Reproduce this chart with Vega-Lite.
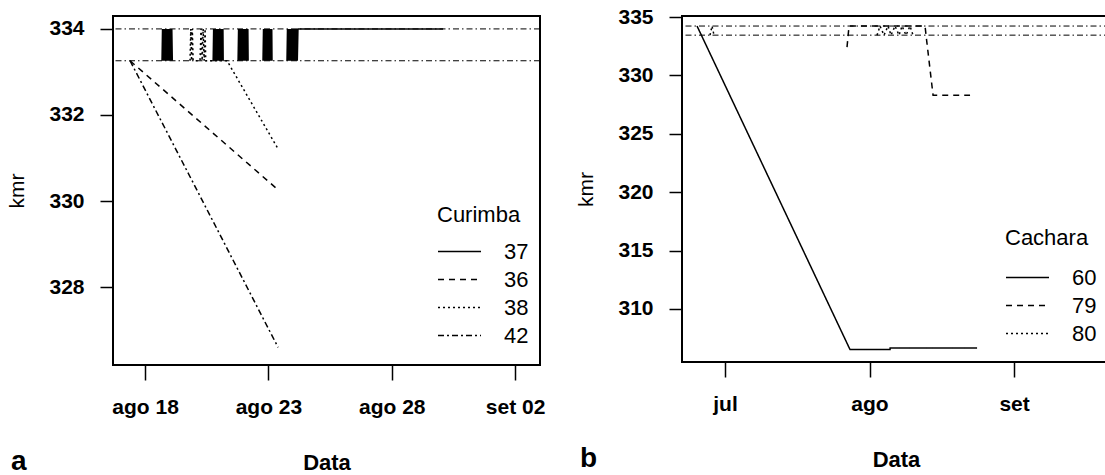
{
  "$schema": "https://vega.github.io/schema/vega-lite/v6.json",
  "background": "white",
  "padding": {"left": 5, "top": 5, "right": 0, "bottom": 0},
  "spacing": 142,
  "bounds": "flush",
  "resolve": {"scale": {"strokeDash": "independent"}, "legend": {"strokeDash": "independent"}},
  "config": {
    "font": "Liberation Sans",
    "view": {"stroke": "black", "strokeWidth": 2},
    "axis": {"grid": false, "domain": false, "tickColor": "black", "tickWidth": 1.5, "tickSize": 13, "labelColor": "black", "labelFontSize": 21, "labelFontWeight": "bold", "labelPadding": 16, "titleColor": "black", "titleFontSize": 21, "labelFlush": false, "labelOverlap": false},
    "axisX": {"titleFontWeight": "bold", "titleFontSize": 22, "titlePadding": 35, "tickSize": 15, "labelPadding": 16},
    "axisY": {"titleFontWeight": "normal", "titlePadding": 21},
    "legend": {"orient": "none", "padding": 0, "symbolType": "stroke", "symbolSize": 1849, "symbolStrokeWidth": 1.5, "symbolStrokeColor": "black", "labelFontSize": 22, "titleFontSize": 22, "titleFontWeight": "normal", "labelColor": "black", "titleColor": "black", "labelOffset": 22, "clipHeight": 27, "rowPadding": 1, "titlePadding": 11}
  },
  "datasets": {
    "refsA": [{"kmr": 334.0}, {"kmr": 333.26}],
    "refsB": [{"kmr": 334.23}, {"kmr": 333.45}],
    "curimba": [
      {"fish": "37", "seg": "37a", "t": "2009-08-18T16:30", "kmr": 333.26},
      {"fish": "37", "seg": "37a", "t": "2009-08-18T17:00", "kmr": 334.0},
      {"fish": "37", "seg": "37a", "t": "2009-08-18T17:30", "kmr": 333.26},
      {"fish": "37", "seg": "37a", "t": "2009-08-18T18:00", "kmr": 334.0},
      {"fish": "37", "seg": "37a", "t": "2009-08-18T18:30", "kmr": 333.26},
      {"fish": "37", "seg": "37a", "t": "2009-08-18T19:00", "kmr": 334.0},
      {"fish": "37", "seg": "37a", "t": "2009-08-18T19:30", "kmr": 333.26},
      {"fish": "37", "seg": "37a", "t": "2009-08-18T20:00", "kmr": 334.0},
      {"fish": "37", "seg": "37a", "t": "2009-08-18T20:30", "kmr": 333.26},
      {"fish": "37", "seg": "37a", "t": "2009-08-18T21:00", "kmr": 334.0},
      {"fish": "37", "seg": "37a", "t": "2009-08-18T21:30", "kmr": 333.26},
      {"fish": "37", "seg": "37a", "t": "2009-08-18T22:00", "kmr": 334.0},
      {"fish": "37", "seg": "37a", "t": "2009-08-18T22:30", "kmr": 333.26},
      {"fish": "37", "seg": "37a", "t": "2009-08-18T23:00", "kmr": 334.0},
      {"fish": "37", "seg": "37a", "t": "2009-08-18T23:30", "kmr": 333.26},
      {"fish": "37", "seg": "37a", "t": "2009-08-19T00:00", "kmr": 334.0},
      {"fish": "37", "seg": "37a", "t": "2009-08-19T00:30", "kmr": 333.26},
      {"fish": "37", "seg": "37a", "t": "2009-08-19T01:00", "kmr": 334.0},
      {"fish": "37", "seg": "37a", "t": "2009-08-19T01:30", "kmr": 333.26},
      {"fish": "37", "seg": "37a", "t": "2009-08-19T02:00", "kmr": 334.0},
      {"fish": "37", "seg": "37a", "t": "2009-08-19T02:30", "kmr": 333.26},
      {"fish": "37", "seg": "37b", "t": "2009-08-20T18:15", "kmr": 333.26},
      {"fish": "37", "seg": "37b", "t": "2009-08-20T18:45", "kmr": 334.0},
      {"fish": "37", "seg": "37b", "t": "2009-08-20T19:15", "kmr": 333.26},
      {"fish": "37", "seg": "37b", "t": "2009-08-20T19:45", "kmr": 334.0},
      {"fish": "37", "seg": "37b", "t": "2009-08-20T20:15", "kmr": 333.26},
      {"fish": "37", "seg": "37b", "t": "2009-08-20T20:45", "kmr": 334.0},
      {"fish": "37", "seg": "37b", "t": "2009-08-20T21:15", "kmr": 333.26},
      {"fish": "37", "seg": "37b", "t": "2009-08-20T21:45", "kmr": 334.0},
      {"fish": "37", "seg": "37b", "t": "2009-08-20T22:15", "kmr": 333.26},
      {"fish": "37", "seg": "37b", "t": "2009-08-20T22:45", "kmr": 334.0},
      {"fish": "37", "seg": "37b", "t": "2009-08-20T23:15", "kmr": 333.26},
      {"fish": "37", "seg": "37b", "t": "2009-08-20T23:45", "kmr": 334.0},
      {"fish": "37", "seg": "37b", "t": "2009-08-21T00:15", "kmr": 333.26},
      {"fish": "37", "seg": "37b", "t": "2009-08-21T00:45", "kmr": 334.0},
      {"fish": "37", "seg": "37b", "t": "2009-08-21T01:15", "kmr": 333.26},
      {"fish": "37", "seg": "37b", "t": "2009-08-21T01:45", "kmr": 334.0},
      {"fish": "37", "seg": "37b", "t": "2009-08-21T02:15", "kmr": 333.26},
      {"fish": "37", "seg": "37b", "t": "2009-08-21T02:45", "kmr": 334.0},
      {"fish": "37", "seg": "37b", "t": "2009-08-21T03:15", "kmr": 333.26},
      {"fish": "37", "seg": "37b", "t": "2009-08-21T03:45", "kmr": 334.0},
      {"fish": "37", "seg": "37b", "t": "2009-08-21T04:00", "kmr": 333.26},
      {"fish": "37", "seg": "37c", "t": "2009-08-21T18:30", "kmr": 333.26},
      {"fish": "37", "seg": "37c", "t": "2009-08-21T19:00", "kmr": 334.0},
      {"fish": "37", "seg": "37c", "t": "2009-08-21T19:30", "kmr": 333.26},
      {"fish": "37", "seg": "37c", "t": "2009-08-21T20:00", "kmr": 334.0},
      {"fish": "37", "seg": "37c", "t": "2009-08-21T20:30", "kmr": 333.26},
      {"fish": "37", "seg": "37c", "t": "2009-08-21T21:00", "kmr": 334.0},
      {"fish": "37", "seg": "37c", "t": "2009-08-21T21:30", "kmr": 333.26},
      {"fish": "37", "seg": "37c", "t": "2009-08-21T22:00", "kmr": 334.0},
      {"fish": "37", "seg": "37c", "t": "2009-08-21T22:30", "kmr": 333.26},
      {"fish": "37", "seg": "37c", "t": "2009-08-21T23:00", "kmr": 334.0},
      {"fish": "37", "seg": "37c", "t": "2009-08-21T23:30", "kmr": 333.26},
      {"fish": "37", "seg": "37c", "t": "2009-08-22T00:00", "kmr": 334.0},
      {"fish": "37", "seg": "37c", "t": "2009-08-22T00:30", "kmr": 333.26},
      {"fish": "37", "seg": "37c", "t": "2009-08-22T01:00", "kmr": 334.0},
      {"fish": "37", "seg": "37c", "t": "2009-08-22T01:30", "kmr": 333.26},
      {"fish": "37", "seg": "37c", "t": "2009-08-22T02:00", "kmr": 334.0},
      {"fish": "37", "seg": "37c", "t": "2009-08-22T02:30", "kmr": 333.26},
      {"fish": "37", "seg": "37c", "t": "2009-08-22T03:00", "kmr": 334.0},
      {"fish": "37", "seg": "37c", "t": "2009-08-22T03:30", "kmr": 333.26},
      {"fish": "37", "seg": "37c", "t": "2009-08-22T04:00", "kmr": 334.0},
      {"fish": "37", "seg": "37c", "t": "2009-08-22T04:15", "kmr": 333.26},
      {"fish": "37", "seg": "37d", "t": "2009-08-22T18:45", "kmr": 333.26},
      {"fish": "37", "seg": "37d", "t": "2009-08-22T19:15", "kmr": 334.0},
      {"fish": "37", "seg": "37d", "t": "2009-08-22T19:45", "kmr": 333.26},
      {"fish": "37", "seg": "37d", "t": "2009-08-22T20:15", "kmr": 334.0},
      {"fish": "37", "seg": "37d", "t": "2009-08-22T20:45", "kmr": 333.26},
      {"fish": "37", "seg": "37d", "t": "2009-08-22T21:15", "kmr": 334.0},
      {"fish": "37", "seg": "37d", "t": "2009-08-22T21:45", "kmr": 333.26},
      {"fish": "37", "seg": "37d", "t": "2009-08-22T22:15", "kmr": 334.0},
      {"fish": "37", "seg": "37d", "t": "2009-08-22T22:45", "kmr": 333.26},
      {"fish": "37", "seg": "37d", "t": "2009-08-22T23:15", "kmr": 334.0},
      {"fish": "37", "seg": "37d", "t": "2009-08-22T23:45", "kmr": 333.26},
      {"fish": "37", "seg": "37d", "t": "2009-08-23T00:15", "kmr": 334.0},
      {"fish": "37", "seg": "37d", "t": "2009-08-23T00:45", "kmr": 333.26},
      {"fish": "37", "seg": "37d", "t": "2009-08-23T01:15", "kmr": 334.0},
      {"fish": "37", "seg": "37d", "t": "2009-08-23T01:45", "kmr": 333.26},
      {"fish": "37", "seg": "37d", "t": "2009-08-23T02:15", "kmr": 334.0},
      {"fish": "37", "seg": "37d", "t": "2009-08-23T02:45", "kmr": 333.26},
      {"fish": "37", "seg": "37d", "t": "2009-08-23T03:15", "kmr": 334.0},
      {"fish": "37", "seg": "37d", "t": "2009-08-23T03:30", "kmr": 333.26},
      {"fish": "37", "seg": "37e", "t": "2009-08-23T18:05", "kmr": 333.26},
      {"fish": "37", "seg": "37e", "t": "2009-08-23T18:35", "kmr": 334.0},
      {"fish": "37", "seg": "37e", "t": "2009-08-23T19:05", "kmr": 333.26},
      {"fish": "37", "seg": "37e", "t": "2009-08-23T19:35", "kmr": 334.0},
      {"fish": "37", "seg": "37e", "t": "2009-08-23T20:05", "kmr": 333.26},
      {"fish": "37", "seg": "37e", "t": "2009-08-23T20:35", "kmr": 334.0},
      {"fish": "37", "seg": "37e", "t": "2009-08-23T21:05", "kmr": 333.26},
      {"fish": "37", "seg": "37e", "t": "2009-08-23T21:35", "kmr": 334.0},
      {"fish": "37", "seg": "37e", "t": "2009-08-23T22:05", "kmr": 333.26},
      {"fish": "37", "seg": "37e", "t": "2009-08-23T22:35", "kmr": 334.0},
      {"fish": "37", "seg": "37e", "t": "2009-08-23T23:05", "kmr": 333.26},
      {"fish": "37", "seg": "37e", "t": "2009-08-23T23:35", "kmr": 334.0},
      {"fish": "37", "seg": "37e", "t": "2009-08-24T00:05", "kmr": 333.26},
      {"fish": "37", "seg": "37e", "t": "2009-08-24T00:35", "kmr": 334.0},
      {"fish": "37", "seg": "37e", "t": "2009-08-24T01:05", "kmr": 333.26},
      {"fish": "37", "seg": "37e", "t": "2009-08-24T01:35", "kmr": 334.0},
      {"fish": "37", "seg": "37e", "t": "2009-08-24T02:05", "kmr": 333.26},
      {"fish": "37", "seg": "37e", "t": "2009-08-24T02:35", "kmr": 334.0},
      {"fish": "37", "seg": "37e", "t": "2009-08-24T03:05", "kmr": 333.26},
      {"fish": "37", "seg": "37e", "t": "2009-08-24T03:35", "kmr": 334.0},
      {"fish": "37", "seg": "37e", "t": "2009-08-24T04:05", "kmr": 333.26},
      {"fish": "37", "seg": "37e", "t": "2009-08-24T04:45", "kmr": 334.0},
      {"fish": "37", "seg": "37e", "t": "2009-08-30T02:00", "kmr": 334.0},
      {"fish": "36", "seg": "36a", "t": "2009-08-17T09:24", "kmr": 333.26},
      {"fish": "36", "seg": "36a", "t": "2009-08-23T09:24", "kmr": 330.26},
      {"fish": "38", "seg": "38a", "t": "2009-08-19T19:45", "kmr": 333.26},
      {"fish": "38", "seg": "38a", "t": "2009-08-19T20:30", "kmr": 334.0},
      {"fish": "38", "seg": "38a", "t": "2009-08-19T21:15", "kmr": 333.26},
      {"fish": "38", "seg": "38a", "t": "2009-08-19T22:00", "kmr": 334.0},
      {"fish": "38", "seg": "38a", "t": "2009-08-19T22:45", "kmr": 333.26},
      {"fish": "38", "seg": "38a", "t": "2009-08-20T05:30", "kmr": 333.26},
      {"fish": "38", "seg": "38a", "t": "2009-08-20T06:30", "kmr": 334.0},
      {"fish": "38", "seg": "38a", "t": "2009-08-20T07:30", "kmr": 333.26},
      {"fish": "38", "seg": "38a", "t": "2009-08-20T08:30", "kmr": 334.0},
      {"fish": "38", "seg": "38a", "t": "2009-08-20T09:30", "kmr": 333.26},
      {"fish": "38", "seg": "38a", "t": "2009-08-20T10:24", "kmr": 334.0},
      {"fish": "38", "seg": "38a", "t": "2009-08-20T11:00", "kmr": 333.26},
      {"fish": "38", "seg": "38a", "t": "2009-08-21T07:45", "kmr": 333.26},
      {"fish": "38", "seg": "38a", "t": "2009-08-23T09:24", "kmr": 331.21},
      {"fish": "42", "seg": "42a", "t": "2009-08-17T09:24", "kmr": 333.26},
      {"fish": "42", "seg": "42a", "t": "2009-08-20T08:24", "kmr": 329.98},
      {"fish": "42", "seg": "42a", "t": "2009-08-23T09:24", "kmr": 326.6}
    ],
    "cachara": [
      {"fish": "60", "seg": "60a", "t": "2009-06-25T00:00", "kmr": 334.23},
      {"fish": "60", "seg": "60a", "t": "2009-07-27T19:40", "kmr": 306.52},
      {"fish": "60", "seg": "60a", "t": "2009-08-05T09:36", "kmr": 306.52},
      {"fish": "60", "seg": "60a", "t": "2009-08-05T10:00", "kmr": 306.66},
      {"fish": "60", "seg": "60a", "t": "2009-08-24T01:40", "kmr": 306.66},
      {"fish": "79", "seg": "79a", "t": "2009-07-27T04:05", "kmr": 332.43},
      {"fish": "79", "seg": "79a", "t": "2009-07-27T14:24", "kmr": 334.23},
      {"fish": "79", "seg": "79a", "t": "2009-08-12T21:50", "kmr": 334.23},
      {"fish": "79", "seg": "79a", "t": "2009-08-13T02:53", "kmr": 333.45},
      {"fish": "79", "seg": "79a", "t": "2009-08-14T15:07", "kmr": 328.3},
      {"fish": "79", "seg": "79a", "t": "2009-08-22T13:26", "kmr": 328.3},
      {"fish": "80", "seg": "80a", "t": "2009-06-27T18:43", "kmr": 333.45},
      {"fish": "80", "seg": "80a", "t": "2009-06-28T05:02", "kmr": 334.23},
      {"fish": "80", "seg": "80a", "t": "2009-06-28T15:22", "kmr": 333.45},
      {"fish": "80", "seg": "80b", "t": "2009-08-02T14:38", "kmr": 333.45},
      {"fish": "80", "seg": "80b", "t": "2009-08-03T06:00", "kmr": 334.23},
      {"fish": "80", "seg": "80b", "t": "2009-08-04T02:38", "kmr": 333.45},
      {"fish": "80", "seg": "80b", "t": "2009-08-04T23:17", "kmr": 334.23},
      {"fish": "80", "seg": "80b", "t": "2009-08-05T14:38", "kmr": 333.45},
      {"fish": "80", "seg": "80b", "t": "2009-08-06T11:17", "kmr": 334.23},
      {"fish": "80", "seg": "80b", "t": "2009-08-07T07:55", "kmr": 333.45},
      {"fish": "80", "seg": "80b", "t": "2009-08-07T23:17", "kmr": 334.23},
      {"fish": "80", "seg": "80b", "t": "2009-08-08T19:55", "kmr": 333.45},
      {"fish": "80", "seg": "80b", "t": "2009-08-09T16:34", "kmr": 334.23},
      {"fish": "80", "seg": "80b", "t": "2009-08-10T07:55", "kmr": 333.45}
    ]
  },
  "hconcat": [
    {
      "width": 427,
      "height": 349,
      "title": {"text": "a", "orient": "bottom", "anchor": "start", "frame": "bounds", "fontSize": 28, "fontWeight": "bold", "color": "black", "offset": -25, "dx": 4},
      "layer": [
        {
          "data": {"name": "refsA"},
          "mark": {"type": "rule", "strokeDash": [6, 3, 1.5, 3], "strokeWidth": 1, "color": "black"},
          "encoding": {
            "y": {"field": "kmr", "type": "quantitative", "scale": {"domain": [326.19, 334.3], "nice": false, "zero": false}, "axis": {"title": "kmr", "values": [328, 330, 332, 334]}}
          }
        },
        {
          "data": {"name": "curimba"},
          "mark": {"type": "line", "strokeWidth": 1.5, "color": "black"},
          "encoding": {
            "x": {"field": "t", "type": "temporal", "scale": {"domain": [{"year": 2009, "month": 8, "date": 16, "hours": 16, "minutes": 48}, {"year": 2009, "month": 9, "date": 3, "hours": 0, "minutes": 15}]}, "axis": {"title": "Data", "values": [{"year": 2009, "month": 8, "date": 18}, {"year": 2009, "month": 8, "date": 23}, {"year": 2009, "month": 8, "date": 28}, {"year": 2009, "month": 9, "date": 2}], "labelExpr": "replace(replace(timeFormat(datum.value, '%b %d'), 'Aug', 'ago'), 'Sep', 'set')"}},
            "y": {"field": "kmr", "type": "quantitative", "scale": {"domain": [326.19, 334.3], "nice": false, "zero": false}, "axis": {"title": "kmr", "values": [328, 330, 332, 334]}},
            "strokeDash": {"field": "fish", "type": "nominal", "scale": {"domain": ["37", "36", "38", "42"], "range": [[1, 0], [6, 5], [2, 3], [6, 3, 2, 3]]}, "legend": {"title": "Curimba", "legendX": 324, "legendY": 189}},
            "detail": {"field": "seg"}
          }
        }
      ]
    },
    {
      "width": 428,
      "height": 346,
      "title": {"text": "b", "orient": "bottom", "anchor": "start", "frame": "bounds", "fontSize": 28, "fontWeight": "bold", "color": "black", "offset": -25, "dx": 4},
      "layer": [
        {
          "data": {"name": "refsB"},
          "mark": {"type": "rule", "strokeDash": [6, 3, 1.5, 3], "strokeWidth": 1, "color": "black"},
          "encoding": {
            "y": {"field": "kmr", "type": "quantitative", "scale": {"domain": [305.46, 335.09], "nice": false, "zero": false}, "axis": {"title": "kmr", "values": [310, 315, 320, 325, 330, 335]}}
          }
        },
        {
          "data": {"name": "cachara"},
          "mark": {"type": "line", "strokeWidth": 1.5, "color": "black"},
          "encoding": {
            "x": {"field": "t", "type": "temporal", "scale": {"domain": [{"year": 2009, "month": 6, "date": 21, "hours": 18, "minutes": 30}, {"year": 2009, "month": 9, "date": 21, "hours": 14}]}, "axis": {"title": "Data", "values": [{"year": 2009, "month": 7, "date": 1}, {"year": 2009, "month": 8, "date": 1}, {"year": 2009, "month": 9, "date": 1}], "labelExpr": "lower(replace(replace(timeFormat(datum.value, '%b'), 'Aug', 'ago'), 'Sep', 'set'))"}},
            "y": {"field": "kmr", "type": "quantitative", "scale": {"domain": [305.46, 335.09], "nice": false, "zero": false}, "axis": {"title": "kmr", "values": [310, 315, 320, 325, 330, 335]}},
            "strokeDash": {"field": "fish", "type": "nominal", "scale": {"domain": ["60", "79", "80"], "range": [[1, 0], [6, 5], [2, 3]]}, "legend": {"title": "Cachara", "legendX": 323, "legendY": 212, "titlePadding": 14}},
            "detail": {"field": "seg"}
          }
        }
      ]
    }
  ]
}
